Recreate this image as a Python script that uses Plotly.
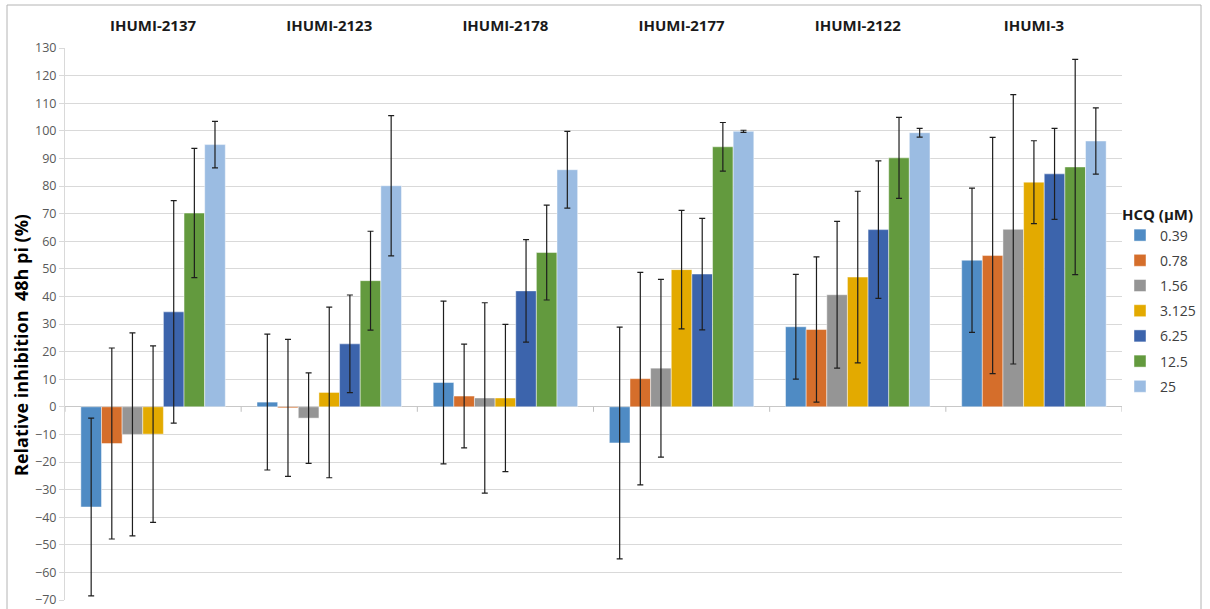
import plotly.graph_objects as go

# Strains (groups) and HCQ concentrations (series)
strains = ["IHUMI-2137", "IHUMI-2123", "IHUMI-2178", "IHUMI-2177", "IHUMI-2122", "IHUMI-3"]
concentrations = ["0.39", "0.78", "1.56", "3.125", "6.25", "12.5", "25"]

# Mean relative inhibition (%) per concentration, one value per strain
inh_039 = [-36.3, 1.7, 8.8, -13.1, 29.0, 53.1]
inh_078 = [-13.3, -0.4, 3.9, 10.2, 28.0, 54.8]
inh_156 = [-10.0, -4.1, 3.2, 14.0, 40.6, 64.3]
inh_3125 = [-9.9, 5.2, 3.2, 49.7, 47.0, 81.4]
inh_625 = [34.4, 22.8, 42.0, 48.1, 64.2, 84.4]
inh_125 = [70.2, 45.7, 55.9, 94.2, 90.2, 86.9]
inh_25 = [95.0, 80.1, 85.9, 99.8, 99.3, 96.3]

# Standard deviations
sd_039 = [32.2, 24.6, 29.5, 42.0, 19.0, 26.1]
sd_078 = [34.6, 24.8, 18.8, 38.5, 26.3, 42.8]
sd_156 = [36.8, 16.4, 34.5, 32.2, 26.6, 48.8]
sd_3125 = [32.0, 30.9, 26.7, 21.5, 31.1, 15.0]
sd_625 = [40.3, 17.7, 18.6, 20.2, 24.9, 16.5]
sd_125 = [23.4, 17.9, 17.2, 8.8, 14.7, 39.0]
sd_25 = [8.4, 25.4, 13.9, 0.4, 1.6, 12.0]

means = [inh_039, inh_078, inh_156, inh_3125, inh_625, inh_125, inh_25]
sds = [sd_039, sd_078, sd_156, sd_3125, sd_625, sd_125, sd_25]
colors = ["#4f8bc4", "#d56e2b", "#959595", "#e3aa00", "#3c64ac", "#639a3e", "#9bbce2"]

W, H = 1210, 609
ML, MR, MT, MB = 65, 88, 48, 9
PW, PH = W - ML - MR, H - MT - MB


def px_x(p):
    return (p - ML) / PW


def px_y(p):
    return 1 - (p - MT) / PH


fig = go.Figure()
for name, m, s, c in zip(concentrations, means, sds, colors):
    fig.add_trace(go.Bar(
        x=strains, y=m, name=name, legendgroup=name,
        marker=dict(color=c, line=dict(color="rgba(255,255,255,0.45)", width=1)),
        error_y=dict(type="data", array=s, visible=True, color="#1e1e1e",
                     thickness=1.2, width=3),
    ))

grid = "#d9d9d9"
shapes = []
# small tick marks on the zero line between strain groups
for i in range(len(strains) + 1):
    shapes.append(dict(type="line", xref="x", yref="y", ysizemode="pixel",
                       yanchor=0, x0=i - 0.5, x1=i - 0.5, y0=0, y1=-5,
                       line=dict(color="#bfbfbf", width=1)))
# chart frame
shapes.append(dict(type="rect", xref="paper", yref="paper",
                   x0=px_x(7), x1=px_x(1201), y0=px_y(630), y1=px_y(5),
                   line=dict(color="#b4b4b4", width=1), fillcolor="rgba(0,0,0,0)",
                   layer="below"))

fig.update_layout(
    width=W, height=H,
    margin=dict(l=ML, r=MR, t=MT, b=MB, pad=0, autoexpand=False),
    paper_bgcolor="white", plot_bgcolor="white",
    barmode="group", bargap=0.18, bargroupgap=0,
    font=dict(family="Open Sans, Arial, sans-serif", color="#595959"),
    xaxis=dict(side="top", showgrid=False, showline=False, ticks="", automargin=False,
               tickfont=dict(size=15, color="#1a1a1a", weight="bold"),
               ticklabelstandoff=13, range=[-0.5, len(strains) - 0.5]),
    yaxis=dict(range=[-70, 130], dtick=10, tick0=0, showgrid=True, gridcolor=grid,
               gridwidth=1, zeroline=True, zerolinecolor="#c8c8c8", zerolinewidth=1,
               showline=True, linecolor=grid, ticks="outside", ticklen=5,
               tickcolor=grid, ticklabeloverflow="allow", automargin=False,
               tickfont=dict(size=12.5, color="#595959")),
    legend=dict(x=px_x(1120), y=px_y(200), xanchor="left", yanchor="top",
                title=dict(text="HCQ (µM)", font=dict(size=15, color="#1a1a1a",
                                                       weight="bold")),
                font=dict(size=14, color="#404040"), tracegroupgap=4,
                itemwidth=30, bgcolor="rgba(0,0,0,0)"),
    shapes=shapes,
    annotations=[dict(text="Relative inhibition  48h pi (%)", textangle=-90,
                      xref="paper", yref="paper", x=px_x(21), y=px_y(345),
                      xanchor="center", yanchor="middle",
                      showarrow=False, font=dict(size=18, color="#000000",
                                                 weight="bold"))],
)

fig.write_html("out.html")
